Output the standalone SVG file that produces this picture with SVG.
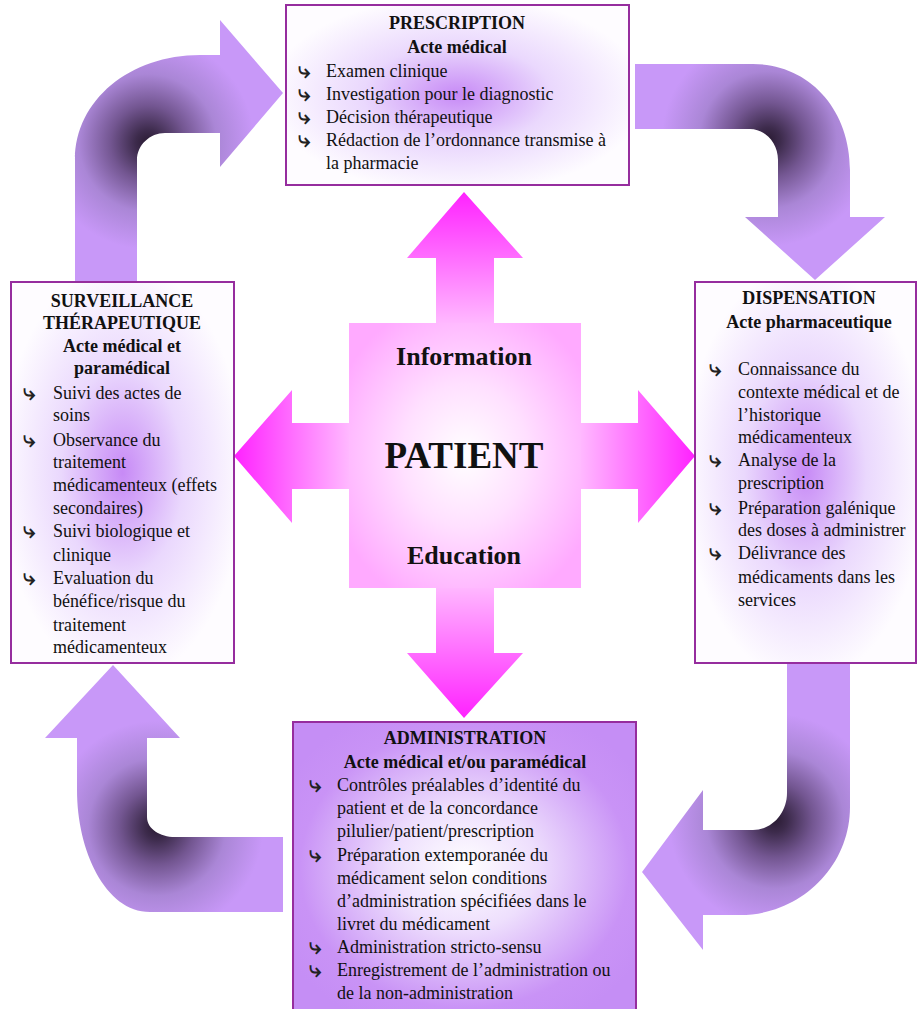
<svg xmlns="http://www.w3.org/2000/svg" width="917" height="1009" viewBox="0 0 917 1009">
<defs>
<style>
.box{stroke:#962d9e;stroke-width:2}
.t{font-family:"Liberation Serif","Times New Roman",serif;font-size:18px;fill:#111}
.h{font-family:"Liberation Serif","Times New Roman",serif;font-size:18px;font-weight:bold;fill:#111;text-anchor:middle}
.b{font-family:"DejaVu Sans",sans-serif;font-size:22px;font-weight:bold;fill:#222;text-anchor:middle}
.c{font-family:"Liberation Serif","Times New Roman",serif;font-weight:bold;fill:#111;text-anchor:middle}
</style>
<radialGradient id="glow" cx="0.5" cy="0.5" r="0.55">
<stop offset="0" stop-color="#c78af6"/>
<stop offset="0.5" stop-color="#ead8fd"/>
<stop offset="1" stop-color="#fefcff"/>
</radialGradient>
<radialGradient id="adm" cx="0.5" cy="0.5" r="0.6">
<stop offset="0" stop-color="#ffffff"/>
<stop offset="0.35" stop-color="#eedffd"/>
<stop offset="0.8" stop-color="#c993f6"/>
<stop offset="1" stop-color="#c58ef5"/>
</radialGradient>
<radialGradient id="sq" cx="0.5" cy="0.5" r="0.6">
<stop offset="0" stop-color="#ffffff"/>
<stop offset="0.45" stop-color="#ffe0ff"/>
<stop offset="1" stop-color="#ffaaff"/>
</radialGradient>
<linearGradient id="aUp" x1="0" y1="1" x2="0" y2="0"><stop offset="0" stop-color="#ffc0ff"/><stop offset="1" stop-color="#ff22ff"/></linearGradient>
<linearGradient id="aDn" x1="0" y1="0" x2="0" y2="1"><stop offset="0" stop-color="#ffc0ff"/><stop offset="1" stop-color="#ff22ff"/></linearGradient>
<linearGradient id="aLf" x1="1" y1="0" x2="0" y2="0"><stop offset="0" stop-color="#ffc0ff"/><stop offset="1" stop-color="#ff22ff"/></linearGradient>
<linearGradient id="aRt" x1="0" y1="0" x2="1" y2="0"><stop offset="0" stop-color="#ffc0ff"/><stop offset="1" stop-color="#ff22ff"/></linearGradient>
<radialGradient id="cTL" gradientUnits="userSpaceOnUse" cx="148" cy="143" r="125">
<stop offset="0" stop-color="#2a1b33"/><stop offset="0.1" stop-color="#3d2b4c"/><stop offset="0.3" stop-color="#735691"/><stop offset="0.55" stop-color="#aa86d6"/><stop offset="0.85" stop-color="#c898f8"/>
</radialGradient>
<radialGradient id="cTR" gradientUnits="userSpaceOnUse" cx="768" cy="140" r="125">
<stop offset="0" stop-color="#2a1b33"/><stop offset="0.1" stop-color="#3d2b4c"/><stop offset="0.3" stop-color="#735691"/><stop offset="0.55" stop-color="#aa86d6"/><stop offset="0.85" stop-color="#c898f8"/>
</radialGradient>
<radialGradient id="cBR" gradientUnits="userSpaceOnUse" cx="775" cy="820" r="125">
<stop offset="0" stop-color="#2a1b33"/><stop offset="0.1" stop-color="#3d2b4c"/><stop offset="0.3" stop-color="#735691"/><stop offset="0.55" stop-color="#aa86d6"/><stop offset="0.85" stop-color="#c898f8"/>
</radialGradient>
<radialGradient id="cBL" gradientUnits="userSpaceOnUse" cx="157" cy="827" r="125">
<stop offset="0" stop-color="#2a1b33"/><stop offset="0.1" stop-color="#3d2b4c"/><stop offset="0.3" stop-color="#735691"/><stop offset="0.55" stop-color="#aa86d6"/><stop offset="0.85" stop-color="#c898f8"/>
</radialGradient>
</defs>
<rect width="917" height="1009" fill="#ffffff"/>

<g id="connectors">
<path fill="url(#cTL)" d="M75,282 L75,160 C75,100 130,55 200,55 L220,55 L220,20 L283,93 L220,167 L220,133 L165,133 C150,133 137,145 137,160 L137,282 Z"/>
<path fill="url(#cTR)" d="M635,64 L753,64 C808,64 850,108 850,170 L850,217 L885,217 L815,280 L745,217 L778,217 L778,160 C778,143 765,129 750,129 L635,129 Z"/>
<path fill="url(#cBR)" d="M787,663 L787,793 C787,813 772,830 753,830 L703,830 L703,790 L642,872 L703,950 L703,915 L740,915 C800,915 850,867 850,807 L850,663 Z"/>
<path fill="url(#cBL)" d="M113,665 L180,738 L147,738 L147,817 C147,829 160,837 175,837 L283,837 L283,912 L150,912 C105,912 77,850 77,790 L77,738 L45,738 Z"/>
</g>

<g id="patient">
<path fill="url(#aUp)" d="M436,330 L436,258 L407,258 L464,192 L523,258 L494,258 L494,330 Z"/>
<path fill="url(#aDn)" d="M436,580 L436,653 L407,653 L464,718 L523,653 L494,653 L494,580 Z"/>
<path fill="url(#aLf)" d="M355,423 L292,423 L292,390 L234,456 L292,523 L292,489 L355,489 Z"/>
<path fill="url(#aRt)" d="M575,423 L638,423 L638,390 L695,456 L638,523 L638,489 L575,489 Z"/>
<rect x="349" y="323" width="232" height="265" fill="url(#sq)"/>
<text class="c" x="464" y="365" font-size="26">Information</text>
<text class="c" x="464" y="468" font-size="37">PATIENT</text>
<text class="c" x="464" y="564" font-size="26">Education</text>
</g>

<g id="prescription">
<rect class="box" x="286" y="5" width="343" height="180" fill="url(#glow)"/>
<text class="h" x="457" y="29">PRESCRIPTION</text>
<text class="h" x="457" y="53">Acte médical</text>
<text class="b" x="304" y="78">⤷</text><text class="t" x="326" y="77">Examen clinique</text>
<text class="b" x="304" y="101">⤷</text><text class="t" x="326" y="100">Investigation pour le diagnostic</text>
<text class="b" x="304" y="124">⤷</text><text class="t" x="326" y="123">Décision thérapeutique</text>
<text class="b" x="304" y="147">⤷</text><text class="t" x="326" y="146">Rédaction de l’ordonnance transmise à</text>
<text class="t" x="326" y="169">la pharmacie</text>
</g>

<g id="dispensation">
<rect class="box" x="695" y="282" width="221" height="381" fill="url(#glow)"/>
<text class="h" x="809" y="304">DISPENSATION</text>
<text class="h" x="809" y="328">Acte pharmaceutique</text>
<text class="b" x="715" y="376">⤷</text><text class="t" x="738" y="375">Connaissance du</text>
<text class="t" x="738" y="398">contexte médical et de</text>
<text class="t" x="738" y="421">l’historique</text>
<text class="t" x="738" y="443">médicamenteux</text>
<text class="b" x="715" y="467">⤷</text><text class="t" x="738" y="466">Analyse de la</text>
<text class="t" x="738" y="489">prescription</text>
<text class="b" x="715" y="515">⤷</text><text class="t" x="738" y="514">Préparation galénique</text>
<text class="t" x="738" y="536">des doses à administrer</text>
<text class="b" x="715" y="560">⤷</text><text class="t" x="738" y="559">Délivrance des</text>
<text class="t" x="738" y="583">médicaments dans les</text>
<text class="t" x="738" y="606">services</text>
</g>

<g id="surveillance">
<rect class="box" x="11" y="282" width="223" height="381" fill="url(#glow)"/>
<text class="h" x="122" y="307">SURVEILLANCE</text>
<text class="h" x="122" y="329">THÉRAPEUTIQUE</text>
<text class="h" x="122" y="352">Acte médical et</text>
<text class="h" x="122" y="374">paramédical</text>
<text class="b" x="29" y="400">⤷</text><text class="t" x="53" y="399">Suivi des actes de</text>
<text class="t" x="53" y="421">soins</text>
<text class="b" x="29" y="447">⤷</text><text class="t" x="53" y="446">Observance du</text>
<text class="t" x="53" y="468">traitement</text>
<text class="t" x="53" y="491">médicamenteux (effets</text>
<text class="t" x="53" y="514">secondaires)</text>
<text class="b" x="29" y="538">⤷</text><text class="t" x="53" y="537">Suivi biologique et</text>
<text class="t" x="53" y="561">clinique</text>
<text class="b" x="29" y="585">⤷</text><text class="t" x="53" y="584">Evaluation du</text>
<text class="t" x="53" y="607">bénéfice/risque du</text>
<text class="t" x="53" y="631">traitement</text>
<text class="t" x="53" y="653">médicamenteux</text>
</g>

<g id="administration">
<rect class="box" x="293" y="722" width="343" height="292" fill="url(#adm)"/>
<text class="h" x="465" y="744">ADMINISTRATION</text>
<text class="h" x="465" y="768">Acte médical et/ou paramédical</text>
<text class="b" x="315" y="792">⤷</text><text class="t" x="337" y="791">Contrôles préalables d’identité du</text>
<text class="t" x="337" y="814">patient et de la concordance</text>
<text class="t" x="337" y="837">pilulier/patient/prescription</text>
<text class="b" x="315" y="862">⤷</text><text class="t" x="337" y="861">Préparation extemporanée du</text>
<text class="t" x="337" y="884">médicament selon conditions</text>
<text class="t" x="337" y="907">d’administration spécifiées dans le</text>
<text class="t" x="337" y="930">livret du médicament</text>
<text class="b" x="315" y="954">⤷</text><text class="t" x="337" y="953">Administration stricto-sensu</text>
<text class="b" x="315" y="977">⤷</text><text class="t" x="337" y="976">Enregistrement de l’administration ou</text>
<text class="t" x="337" y="999">de la non-administration</text>
</g>
</svg>
